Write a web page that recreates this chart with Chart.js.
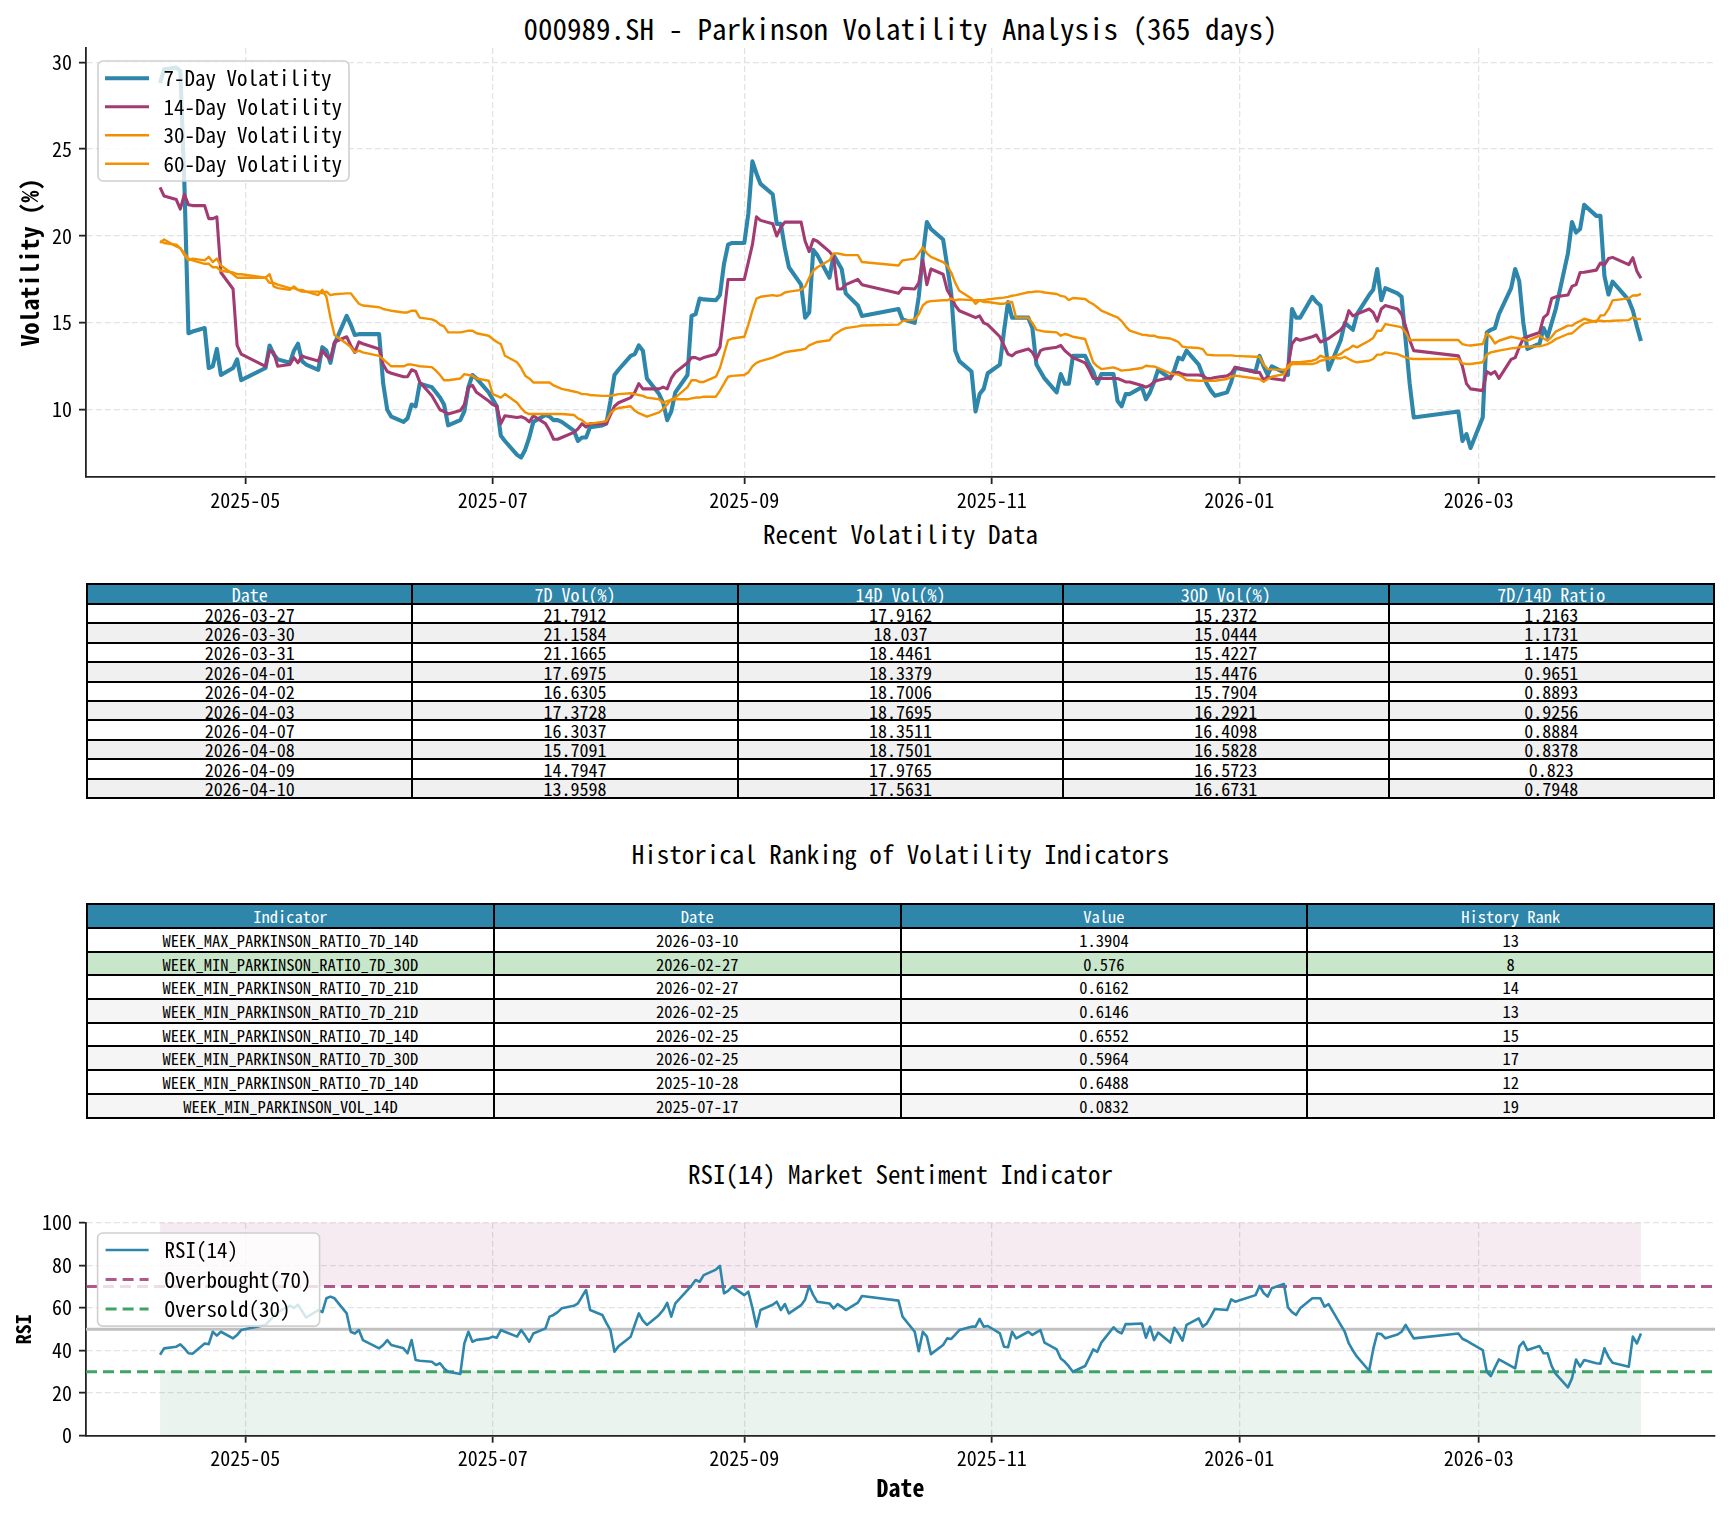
<!DOCTYPE html>
<html>
<head>
<meta charset="utf-8">
<title>000989.SH - Parkinson Volatility Analysis</title>
<script src="https://cdn.jsdelivr.net/npm/chart.js@4.4.1/dist/chart.umd.min.js"></script>
<style>
  html, body { margin: 0; padding: 0; background: #fff; }
  body { width: 1729px; height: 1513px; position: relative; overflow: hidden;
         font-family: "Noto Sans Mono CJK SC", "Noto Sans CJK SC", monospace; color: #000; }
  .title { position: absolute; left: 86px; width: 1629px; text-align: center; white-space: nowrap; }
  canvas { position: absolute; left: 0; }
  table { position: absolute; left: 86px; width: 1629px; border-collapse: collapse; table-layout: fixed; }
  td, th { border: 2px solid #000; padding: 0; text-align: center; font-weight: normal; white-space: nowrap; overflow: hidden; }
  th { background: #2E86AB; color: #fff; }
  #recentTable td, #recentTable th { line-height: 16px; }
  #rankTable td, #rankTable th { line-height: 18px; }
</style>
</head>
<body>
<div class="title" style="top:10px;font-size:29px;line-height:34px">000989.SH - Parkinson Volatility Analysis (365 days)</div>
<canvas id="volChart" width="1729" height="475" style="top:40px"></canvas>
<div class="title" style="top:518px;font-size:25px;line-height:30px">Recent Volatility Data</div>
<table id="recentTable" style="top:583px;font-size:18px"></table>
<div class="title" style="top:838px;font-size:25px;line-height:30px">Historical Ranking of Volatility Indicators</div>
<table id="rankTable" style="top:903px;font-size:16.5px"></table>
<div class="title" style="top:1158px;font-size:25px;line-height:30px">RSI(14) Market Sentiment Indicator</div>
<canvas id="rsiChart" width="1729" height="301" style="top:1212px"></canvas>

<script>
// ---- volatility series ----
const vol7Dates = [
  '2025-04-10','2025-04-11','2025-04-14','2025-04-15','2025-04-16','2025-04-17','2025-04-18','2025-04-21','2025-04-22','2025-04-23','2025-04-24','2025-04-25','2025-04-28','2025-04-29','2025-04-30',
  '2025-05-06','2025-05-07','2025-05-08','2025-05-09','2025-05-12','2025-05-13','2025-05-14','2025-05-15','2025-05-16','2025-05-19','2025-05-20','2025-05-21','2025-05-22','2025-05-23','2025-05-26','2025-05-27','2025-05-28','2025-05-29','2025-05-30',
  '2025-06-03','2025-06-04','2025-06-05','2025-06-06','2025-06-09','2025-06-10','2025-06-11','2025-06-12','2025-06-13','2025-06-16','2025-06-17','2025-06-18','2025-06-19','2025-06-20','2025-06-23','2025-06-24','2025-06-25','2025-06-26','2025-06-27','2025-06-30',
  '2025-07-01','2025-07-02','2025-07-03','2025-07-04','2025-07-07','2025-07-08','2025-07-09','2025-07-10','2025-07-11','2025-07-14','2025-07-15','2025-07-16','2025-07-17','2025-07-18','2025-07-21','2025-07-22','2025-07-23','2025-07-24','2025-07-25','2025-07-28','2025-07-29','2025-07-30','2025-07-31',
  '2025-08-01','2025-08-04','2025-08-05','2025-08-06','2025-08-07','2025-08-08','2025-08-11','2025-08-12','2025-08-13','2025-08-14','2025-08-15','2025-08-18','2025-08-19','2025-08-20','2025-08-21','2025-08-22','2025-08-25','2025-08-26','2025-08-27','2025-08-28','2025-08-29',
  '2025-09-01','2025-09-02','2025-09-03','2025-09-04','2025-09-05','2025-09-08','2025-09-09','2025-09-10','2025-09-11','2025-09-12','2025-09-15','2025-09-16','2025-09-17','2025-09-18','2025-09-19','2025-09-22','2025-09-23','2025-09-24','2025-09-25','2025-09-26','2025-09-29','2025-09-30',
  '2025-10-09','2025-10-10','2025-10-13','2025-10-14','2025-10-15','2025-10-16','2025-10-17','2025-10-20','2025-10-21','2025-10-22','2025-10-23','2025-10-24','2025-10-27','2025-10-28','2025-10-29','2025-10-30','2025-10-31',
  '2025-11-03','2025-11-04','2025-11-05','2025-11-06','2025-11-07','2025-11-10','2025-11-11','2025-11-12','2025-11-13','2025-11-14','2025-11-17','2025-11-18','2025-11-19','2025-11-20','2025-11-21','2025-11-24','2025-11-25','2025-11-26','2025-11-27','2025-11-28',
  '2025-12-01','2025-12-02','2025-12-03','2025-12-04','2025-12-05','2025-12-08','2025-12-09','2025-12-10','2025-12-11','2025-12-12','2025-12-15','2025-12-16','2025-12-17','2025-12-18','2025-12-19','2025-12-22','2025-12-23','2025-12-24','2025-12-25','2025-12-26','2025-12-29','2025-12-30','2025-12-31',
  '2026-01-05','2026-01-06','2026-01-07','2026-01-08','2026-01-09','2026-01-12','2026-01-13','2026-01-14','2026-01-15','2026-01-16','2026-01-19','2026-01-20','2026-01-21','2026-01-22','2026-01-23','2026-01-26','2026-01-27','2026-01-28','2026-01-29','2026-01-30',
  '2026-02-02','2026-02-03','2026-02-04','2026-02-05','2026-02-06','2026-02-09','2026-02-10','2026-02-11','2026-02-12','2026-02-13','2026-02-24','2026-02-25','2026-02-26','2026-02-27',
  '2026-03-02','2026-03-03','2026-03-04','2026-03-05','2026-03-06','2026-03-09','2026-03-10','2026-03-11','2026-03-12','2026-03-13','2026-03-16','2026-03-17','2026-03-18','2026-03-19','2026-03-20','2026-03-23','2026-03-24','2026-03-25','2026-03-26','2026-03-27','2026-03-30','2026-03-31',
  '2026-04-01','2026-04-02','2026-04-03','2026-04-07','2026-04-08','2026-04-09','2026-04-10'
];
const vol7Values = [
  28.8,29.6,29.7,29.5,23.0,14.4,14.5,14.7,12.4,12.5,13.5,12.0,12.4,12.9,11.7,
  12.4,13.7,13.2,12.9,12.7,13.4,13.8,12.8,12.6,12.3,13.6,13.4,12.7,13.8,15.4,14.9,14.3,14.35,14.35,
  14.35,11.5,10.0,9.6,9.3,9.5,10.3,10.2,11.5,11.3,11.0,10.7,10.3,9.1,9.4,9.9,11.3,12.0,11.8,11.0,
  10.6,10.2,8.5,8.2,7.4,7.25,7.7,8.4,9.3,9.7,9.6,9.4,9.4,9.3,8.8,8.2,8.4,8.4,9.0,9.1,9.2,10.5,12.0,
  12.3,13.1,13.2,13.7,13.4,11.8,10.9,10.4,9.4,9.9,11.0,12.0,15.4,15.5,16.4,16.35,16.3,16.6,18.4,19.5,19.6,
  19.6,21.3,24.3,23.6,23.0,22.4,20.7,20.7,19.3,18.2,17.2,15.3,15.6,19.2,18.9,17.6,18.9,18.5,18.1,16.7,16.0,15.4,
  15.8,15.2,15.0,16.5,18.9,20.8,20.4,19.8,18.3,16.7,13.4,12.8,12.2,9.9,10.9,11.2,12.1,
  12.6,14.5,16.2,15.3,15.3,15.3,14.7,12.6,12.2,11.8,11.0,12.05,11.5,11.5,13.1,13.1,12.6,12.2,11.5,12.05,
  12.05,10.5,10.2,10.9,10.9,11.3,10.6,11.0,11.6,12.3,11.8,12.3,13.0,12.9,13.4,12.6,12.0,11.5,11.1,10.8,11.0,11.6,12.4,
  12.2,13.1,12.5,12.0,12.5,12.15,12.0,15.8,15.3,15.3,16.5,16.2,16.0,14.2,12.3,14.0,15.0,14.8,14.6,15.5,
  16.6,16.9,18.1,16.3,17.0,16.7,16.5,14.0,11.5,9.55,9.9,8.2,8.6,7.8,
  9.55,14.45,14.6,14.7,15.5,17.0,18.1,17.4,15.0,13.5,13.8,14.7,14.2,15.0,15.8,19.0,20.8,20.2,20.4,21.7912,21.1584,21.1665,
  17.6975,16.6305,17.3728,16.3037,15.7091,14.7947,13.9598
];

const vol14Dates = [
  '2025-04-10','2025-04-11','2025-04-14','2025-04-15','2025-04-16','2025-04-17','2025-04-18','2025-04-21','2025-04-22','2025-04-23','2025-04-24','2025-04-25','2025-04-28','2025-04-29','2025-04-30',
  '2025-05-06','2025-05-07','2025-05-08','2025-05-09','2025-05-12','2025-05-13','2025-05-14','2025-05-15','2025-05-16','2025-05-19','2025-05-20','2025-05-21','2025-05-22','2025-05-23','2025-05-26','2025-05-27','2025-05-28','2025-05-29','2025-05-30',
  '2025-06-03','2025-06-04','2025-06-05','2025-06-06','2025-06-09','2025-06-10','2025-06-11','2025-06-12','2025-06-13','2025-06-16','2025-06-17','2025-06-18','2025-06-19','2025-06-20','2025-06-23','2025-06-24','2025-06-25','2025-06-26','2025-06-27','2025-06-30',
  '2025-07-01','2025-07-02','2025-07-03','2025-07-04','2025-07-07','2025-07-08','2025-07-09','2025-07-10','2025-07-11','2025-07-14','2025-07-15','2025-07-16','2025-07-17','2025-07-18','2025-07-21','2025-07-22','2025-07-23','2025-07-24','2025-07-25','2025-07-28','2025-07-29','2025-07-30','2025-07-31',
  '2025-08-01','2025-08-04','2025-08-05','2025-08-06','2025-08-07','2025-08-08','2025-08-11','2025-08-12','2025-08-13','2025-08-14','2025-08-15','2025-08-18','2025-08-19','2025-08-20','2025-08-21','2025-08-22','2025-08-25','2025-08-26','2025-08-27','2025-08-28','2025-08-29',
  '2025-09-01','2025-09-02','2025-09-03','2025-09-04','2025-09-05','2025-09-08','2025-09-09','2025-09-10','2025-09-11','2025-09-12','2025-09-15','2025-09-16','2025-09-17','2025-09-18','2025-09-19','2025-09-22','2025-09-23','2025-09-24','2025-09-25','2025-09-26','2025-09-29','2025-09-30',
  '2025-10-09','2025-10-10','2025-10-13','2025-10-14','2025-10-15','2025-10-16','2025-10-17','2025-10-20','2025-10-21','2025-10-22','2025-10-23','2025-10-24','2025-10-27','2025-10-28','2025-10-29','2025-10-30','2025-10-31',
  '2025-11-03','2025-11-04','2025-11-05','2025-11-06','2025-11-07','2025-11-10','2025-11-11','2025-11-12','2025-11-13','2025-11-14','2025-11-17','2025-11-18','2025-11-19','2025-11-20','2025-11-21','2025-11-24','2025-11-25','2025-11-26','2025-11-27','2025-11-28',
  '2025-12-01','2025-12-02','2025-12-03','2025-12-04','2025-12-05','2025-12-08','2025-12-09','2025-12-10','2025-12-11','2025-12-12','2025-12-15','2025-12-16','2025-12-17','2025-12-18','2025-12-19','2025-12-22','2025-12-23','2025-12-24','2025-12-25','2025-12-26','2025-12-29','2025-12-30','2025-12-31',
  '2026-01-05','2026-01-06','2026-01-07','2026-01-08','2026-01-09','2026-01-12','2026-01-13','2026-01-14','2026-01-15','2026-01-16','2026-01-19','2026-01-20','2026-01-21','2026-01-22','2026-01-23','2026-01-26','2026-01-27','2026-01-28','2026-01-29','2026-01-30',
  '2026-02-02','2026-02-03','2026-02-04','2026-02-05','2026-02-06','2026-02-09','2026-02-10','2026-02-11','2026-02-12','2026-02-13','2026-02-24','2026-02-25','2026-02-26','2026-02-27',
  '2026-03-02','2026-03-03','2026-03-04','2026-03-05','2026-03-06','2026-03-09','2026-03-10','2026-03-11','2026-03-12','2026-03-13','2026-03-16','2026-03-17','2026-03-18','2026-03-19','2026-03-20','2026-03-23','2026-03-24','2026-03-25','2026-03-26','2026-03-27','2026-03-30','2026-03-31',
  '2026-04-01','2026-04-02','2026-04-03','2026-04-07','2026-04-08','2026-04-09','2026-04-10'
];
const vol14Values = [
  22.8,22.3,22.1,21.55,22.4,21.8,21.75,21.75,21.0,21.0,21.1,17.9,16.95,13.7,13.2,
  12.5,13.4,13.3,12.5,12.6,13.0,12.7,13.1,13.0,12.8,13.4,13.1,12.9,13.9,14.2,13.7,13.3,13.9,13.8,
  13.5,12.6,12.2,12.1,11.9,11.9,12.3,12.2,11.6,10.8,10.4,10.0,9.9,9.75,9.95,10.3,11.3,11.4,11.0,10.5,
  10.3,10.2,9.2,9.65,9.55,9.6,9.5,9.3,9.65,9.2,8.8,8.3,8.3,8.4,8.7,8.9,9.2,9.0,9.2,9.2,9.2,9.7,10.2,
  10.4,10.7,11.0,11.5,11.2,11.2,11.2,11.3,11.2,11.8,12.15,12.7,13.0,13.0,12.9,13.0,13.2,13.6,15.5,17.5,17.5,
  17.5,18.5,19.5,21.1,20.9,20.7,20.0,20.5,20.8,20.8,20.8,19.7,19.1,19.8,19.7,19.1,18.8,16.95,16.95,17.2,17.5,17.2,
  16.7,17.0,16.95,17.3,18.6,17.2,18.1,17.8,16.9,16.5,16.0,15.7,15.4,15.3,15.4,15.0,14.9,
  14.2,13.7,13.2,13.1,13.3,13.5,13.3,12.9,13.4,13.5,13.6,13.7,13.4,13.2,13.0,12.7,12.3,11.8,11.8,11.8,
  11.8,11.8,11.7,11.6,11.6,11.4,11.3,11.4,11.6,11.7,11.85,12.1,12.15,12.05,12.0,12.0,11.95,11.8,11.8,11.85,11.95,12.1,12.45,
  12.15,12.15,11.7,11.9,11.8,11.7,12.5,13.8,14.1,14.0,14.2,14.3,13.9,14.0,14.1,14.6,14.9,15.7,15.4,15.5,
  15.8,15.6,15.1,15.8,16.0,15.8,15.5,14.8,14.0,13.4,13.1,12.5,11.5,11.2,
  11.1,12.2,12.05,12.2,11.8,12.9,13.0,13.6,14.1,14.2,14.45,15.3,15.5,16.4,16.5,16.6,17.1,17.2,17.9,17.9162,18.037,18.4461,
  18.3379,18.7006,18.7695,18.3511,18.7501,17.9765,17.5631
];

const vol30Dates = [
  '2025-04-10','2025-04-11','2025-04-14','2025-04-15','2025-04-16','2025-04-17','2025-04-18','2025-04-21','2025-04-22','2025-04-23','2025-04-24','2025-04-25','2025-04-28','2025-04-29','2025-04-30',
  '2025-05-06','2025-05-07','2025-05-08','2025-05-09','2025-05-12','2025-05-13','2025-05-14','2025-05-15','2025-05-16','2025-05-19','2025-05-20','2025-05-21','2025-05-22','2025-05-23','2025-05-26','2025-05-27','2025-05-28','2025-05-29','2025-05-30',
  '2025-06-03','2025-06-04','2025-06-05','2025-06-06','2025-06-09','2025-06-10','2025-06-11','2025-06-12','2025-06-13','2025-06-16','2025-06-17','2025-06-18','2025-06-19','2025-06-20','2025-06-23','2025-06-24','2025-06-25','2025-06-26','2025-06-27','2025-06-30',
  '2025-07-01','2025-07-02','2025-07-03','2025-07-04','2025-07-07','2025-07-08','2025-07-09','2025-07-10','2025-07-11','2025-07-14','2025-07-18','2025-07-21','2025-07-22','2025-07-23','2025-07-24','2025-07-25','2025-07-28','2025-07-29','2025-07-30','2025-07-31',
  '2025-08-01','2025-08-04','2025-08-05','2025-08-06','2025-08-07','2025-08-08','2025-08-11','2025-08-12','2025-08-13','2025-08-14','2025-08-15','2025-08-18','2025-08-19','2025-08-20','2025-08-21','2025-08-22','2025-08-25','2025-08-26','2025-08-27','2025-08-28','2025-08-29',
  '2025-09-01','2025-09-02','2025-09-03','2025-09-04','2025-09-05','2025-09-08','2025-09-09','2025-09-10','2025-09-11','2025-09-12','2025-09-15','2025-09-16','2025-09-17','2025-09-18','2025-09-19','2025-09-22','2025-09-23','2025-09-24','2025-09-25','2025-09-26','2025-09-29','2025-09-30',
  '2025-10-09','2025-10-10','2025-10-13','2025-10-14','2025-10-15','2025-10-16','2025-10-17','2025-10-20','2025-10-21','2025-10-22','2025-10-23','2025-10-24','2025-10-27','2025-10-28','2025-10-29','2025-10-30','2025-10-31',
  '2025-11-03','2025-11-04','2025-11-05','2025-11-06','2025-11-07','2025-11-10','2025-11-11','2025-11-12','2025-11-13','2025-11-14','2025-11-17','2025-11-18','2025-11-19','2025-11-20','2025-11-21','2025-11-24','2025-11-25','2025-11-26','2025-11-27','2025-11-28',
  '2025-12-01','2025-12-02','2025-12-03','2025-12-04','2025-12-05','2025-12-08','2025-12-09','2025-12-10','2025-12-11','2025-12-12','2025-12-15','2025-12-16','2025-12-17','2025-12-18','2025-12-19','2025-12-22','2025-12-23','2025-12-24','2025-12-26','2025-12-29','2025-12-30','2025-12-31',
  '2026-01-05','2026-01-06','2026-01-07','2026-01-08','2026-01-09','2026-01-12','2026-01-13','2026-01-14','2026-01-15','2026-01-16','2026-01-19','2026-01-20','2026-01-21','2026-01-22','2026-01-23','2026-01-26','2026-01-27','2026-01-28','2026-01-29','2026-01-30',
  '2026-02-02','2026-02-03','2026-02-04','2026-02-05','2026-02-06','2026-02-09','2026-02-10','2026-02-11','2026-02-12','2026-02-13','2026-02-24','2026-02-25','2026-02-26','2026-02-27',
  '2026-03-02','2026-03-03','2026-03-04','2026-03-05','2026-03-06','2026-03-09','2026-03-10','2026-03-11','2026-03-12','2026-03-13','2026-03-16','2026-03-17','2026-03-18','2026-03-19','2026-03-20','2026-03-23','2026-03-24','2026-03-25','2026-03-26','2026-03-27','2026-03-30','2026-03-31',
  '2026-04-01','2026-04-02','2026-04-03','2026-04-07','2026-04-08','2026-04-09','2026-04-10'
];
const vol30Values = [
  19.6,19.8,19.4,19.3,18.9,18.6,18.7,18.6,18.8,18.5,18.7,18.3,17.8,17.6,17.6,
  17.6,17.8,17.1,17.0,16.9,17.1,16.9,16.8,16.8,16.6,16.9,16.5,15.3,14.3,13.8,13.6,13.3,13.4,13.3,
  13.1,12.9,12.7,12.5,12.5,12.6,12.6,12.55,12.5,12.45,12.25,12.0,11.7,11.7,11.8,12.05,12.0,11.96,11.8,11.67,
  10.9,10.8,10.7,10.9,10.4,10.1,9.85,9.75,9.75,9.75,9.75,9.7,9.5,9.4,9.2,9.2,9.3,9.35,9.8,10.0,
  10.1,10.2,9.95,9.8,9.7,9.6,9.85,10.05,10.3,10.6,10.7,11.3,11.7,11.7,11.6,11.6,11.9,12.4,13.2,14.0,14.1,
  14.2,14.9,15.7,16.4,16.5,16.6,16.55,16.6,16.75,16.8,16.9,17.1,17.6,18.0,18.2,18.6,19.0,19.0,18.95,18.9,18.9,18.5,
  18.3,18.6,18.7,19.0,19.35,19.0,18.8,18.5,18.3,17.9,17.3,16.85,16.4,16.1,16.3,16.2,16.2,
  16.1,16.1,16.2,16.2,15.3,15.3,15.0,14.6,14.55,14.5,14.45,14.26,14.36,14.3,14.2,14.07,13.4,12.73,12.5,12.34,
  12.44,12.35,12.25,12.28,12.3,12.4,12.53,12.5,12.49,12.4,12.1,12.05,12.02,11.9,11.71,11.67,11.67,11.67,11.67,11.77,11.9,11.96,
  11.8,11.77,11.61,11.77,11.9,12.05,12.53,12.73,12.73,12.73,12.82,12.9,13.11,13.01,12.92,13.21,13.4,13.5,13.69,13.59,
  13.97,14.13,14.55,14.55,14.93,14.8,14.74,14.45,14.0,14.01,14.01,13.78,13.72,13.7,
  13.78,14.4,14.17,13.82,13.97,14.2,14.15,14.1,14.07,13.97,14.26,14.1,13.97,14.2,14.5,14.84,14.84,15.0,15.1,15.2372,15.0444,15.4227,
  15.4476,15.7904,16.2921,16.4098,16.5828,16.5723,16.6731
];

const vol60Dates = [
  '2025-04-10','2025-04-11','2025-04-14','2025-04-15','2025-04-16','2025-04-17','2025-04-18','2025-04-21','2025-04-22','2025-04-23','2025-04-24','2025-04-25','2025-04-28','2025-04-29','2025-04-30',
  '2025-05-06','2025-05-07','2025-05-08','2025-05-09','2025-05-12','2025-05-13','2025-05-14','2025-05-15','2025-05-16','2025-05-19','2025-05-20','2025-05-21','2025-05-22','2025-05-23','2025-05-26','2025-05-27','2025-05-28','2025-05-29','2025-05-30',
  '2025-06-03','2025-06-04','2025-06-05','2025-06-06','2025-06-09','2025-06-10','2025-06-11','2025-06-12','2025-06-13','2025-06-16','2025-06-17','2025-06-18','2025-06-19','2025-06-20','2025-06-23','2025-06-24','2025-06-25','2025-06-26','2025-06-27','2025-06-30',
  '2025-07-01','2025-07-02','2025-07-03','2025-07-04','2025-07-07','2025-07-08','2025-07-09','2025-07-10','2025-07-11','2025-07-14','2025-07-15','2025-07-16','2025-07-17','2025-07-18','2025-07-21','2025-07-22','2025-07-23','2025-07-24','2025-07-25','2025-07-28','2025-07-29','2025-07-30','2025-07-31',
  '2025-08-01','2025-08-04','2025-08-05','2025-08-06','2025-08-07','2025-08-08','2025-08-11','2025-08-12','2025-08-13','2025-08-14','2025-08-15','2025-08-18','2025-08-19','2025-08-20','2025-08-21','2025-08-22','2025-08-25','2025-08-26','2025-08-27','2025-08-28','2025-08-29',
  '2025-09-01','2025-09-02','2025-09-03','2025-09-04','2025-09-05','2025-09-08','2025-09-09','2025-09-10','2025-09-11','2025-09-12','2025-09-15','2025-09-16','2025-09-17','2025-09-18','2025-09-19','2025-09-22','2025-09-23','2025-09-24','2025-09-25','2025-09-26','2025-09-29','2025-09-30',
  '2025-10-09','2025-10-10','2025-10-13','2025-10-14','2025-10-15','2025-10-16','2025-10-17','2025-10-20','2025-10-21','2025-10-22','2025-10-23','2025-10-24','2025-10-27','2025-10-28','2025-10-29','2025-10-30','2025-10-31',
  '2025-11-03','2025-11-04','2025-11-05','2025-11-06','2025-11-07','2025-11-10','2025-11-11','2025-11-12','2025-11-13','2025-11-14','2025-11-17','2025-11-18','2025-11-19','2025-11-20','2025-11-21','2025-11-24','2025-11-25','2025-11-26','2025-11-27','2025-11-28',
  '2025-12-01','2025-12-02','2025-12-03','2025-12-04','2025-12-05','2025-12-08','2025-12-09','2025-12-10','2025-12-11','2025-12-12','2025-12-15','2025-12-16','2025-12-17','2025-12-18','2025-12-19','2025-12-22','2025-12-23','2025-12-24','2025-12-25','2025-12-26','2025-12-29','2025-12-30','2025-12-31',
  '2026-01-05','2026-01-06','2026-01-07','2026-01-08','2026-01-09','2026-01-12','2026-01-13','2026-01-14','2026-01-15','2026-01-16','2026-01-19','2026-01-20','2026-01-21','2026-01-22','2026-01-23','2026-01-26','2026-01-27','2026-01-28','2026-01-29','2026-01-30',
  '2026-02-02','2026-02-03','2026-02-04','2026-02-05','2026-02-06','2026-02-09','2026-02-10','2026-02-11','2026-02-12','2026-02-13','2026-02-24','2026-02-25','2026-02-26','2026-02-27',
  '2026-03-02','2026-03-03','2026-03-04','2026-03-05','2026-03-06','2026-03-09','2026-03-10','2026-03-11','2026-03-12','2026-03-13','2026-03-16','2026-03-17','2026-03-18','2026-03-19','2026-03-20','2026-03-23','2026-03-24','2026-03-25','2026-03-26','2026-03-27','2026-03-30','2026-03-31',
  '2026-04-01','2026-04-02','2026-04-03','2026-04-07','2026-04-08','2026-04-09','2026-04-10'
];
const vol60Values = [
  19.7,19.6,19.5,19.3,19.0,18.7,18.6,18.4,18.4,18.2,18.2,18.0,17.9,17.8,17.8,
  17.6,17.3,17.3,17.2,17.0,17.0,16.9,16.9,16.8,16.8,16.7,16.8,16.6,16.65,16.7,16.7,16.4,16.1,16.0,
  15.9,15.8,15.75,15.7,15.6,15.6,15.7,15.7,15.3,15.2,15.1,14.9,14.8,14.45,14.45,14.5,14.55,14.55,14.4,14.26,
  14.07,13.9,13.78,13.11,12.73,12.4,11.96,11.8,11.57,11.57,11.57,11.4,11.3,11.2,11.05,11.0,10.9,10.9,10.85,10.8,10.8,10.8,10.85,
  10.9,10.95,10.9,10.85,10.8,10.7,10.6,10.4,10.5,10.55,10.6,10.6,10.65,10.7,10.7,10.75,10.75,11.1,11.5,11.9,11.95,
  12.0,12.15,12.5,12.7,12.8,13.0,13.1,13.2,13.3,13.35,13.45,13.5,13.7,13.8,13.9,14.0,14.3,14.45,14.6,14.7,14.8,14.85,
  14.9,15.1,15.2,15.5,16.0,16.2,16.25,16.3,16.3,16.4,16.3,16.35,16.31,16.3,16.31,16.31,16.35,
  16.43,16.45,16.5,16.56,16.6,16.76,16.78,16.81,16.8,16.75,16.66,16.55,16.51,16.31,16.43,16.37,16.2,16.08,15.9,15.7,
  15.4,15.32,15.1,14.8,14.55,14.32,14.3,14.26,14.26,14.17,14.1,14.01,13.9,13.63,13.6,13.55,13.49,13.17,13.15,13.13,13.13,13.13,13.1,
  13.05,13.05,12.6,12.34,12.32,12.3,12.4,12.63,12.63,12.63,12.63,12.7,12.82,12.86,13.01,12.95,13.05,12.92,12.8,12.73,
  12.82,12.92,13.17,13.17,13.3,13.2,13.1,13.01,12.95,12.92,12.92,12.67,12.63,12.63,
  12.73,13.17,13.3,13.35,13.4,13.53,13.55,13.6,13.63,13.63,13.65,13.7,13.78,13.9,14.07,14.36,14.4,14.6,14.8,14.97,15.12,15.12,
  15.09,15.1,15.12,15.16,15.32,15.22,15.22
];

// ---- RSI(14) ----
const rsiDates = [
  '2025-04-10','2025-04-11','2025-04-14','2025-04-15','2025-04-16','2025-04-17','2025-04-18','2025-04-21','2025-04-22','2025-04-23','2025-04-24','2025-04-25','2025-04-28','2025-04-29','2025-04-30',
  '2025-05-06','2025-05-07','2025-05-08','2025-05-09','2025-05-12','2025-05-13','2025-05-14','2025-05-15','2025-05-16','2025-05-19','2025-05-20','2025-05-21','2025-05-22','2025-05-23','2025-05-26','2025-05-27','2025-05-28','2025-05-29','2025-05-30',
  '2025-06-03','2025-06-04','2025-06-05','2025-06-06','2025-06-09','2025-06-10','2025-06-11','2025-06-12','2025-06-13','2025-06-16','2025-06-17','2025-06-18','2025-06-19','2025-06-20','2025-06-23','2025-06-24','2025-06-25','2025-06-26','2025-06-27','2025-06-30',
  '2025-07-01','2025-07-02','2025-07-03','2025-07-04','2025-07-07','2025-07-08','2025-07-09','2025-07-10','2025-07-11','2025-07-14','2025-07-15','2025-07-16','2025-07-17','2025-07-18','2025-07-21','2025-07-22','2025-07-23','2025-07-24','2025-07-25','2025-07-28','2025-07-29','2025-07-30','2025-07-31',
  '2025-08-01','2025-08-04','2025-08-05','2025-08-06','2025-08-07','2025-08-08','2025-08-11','2025-08-12','2025-08-13','2025-08-14','2025-08-15','2025-08-18','2025-08-19','2025-08-20','2025-08-21','2025-08-22','2025-08-25','2025-08-26','2025-08-27','2025-08-28','2025-08-29',
  '2025-09-01','2025-09-02','2025-09-03','2025-09-04','2025-09-05','2025-09-08','2025-09-09','2025-09-10','2025-09-11','2025-09-12','2025-09-15','2025-09-16','2025-09-17','2025-09-18','2025-09-19','2025-09-22','2025-09-23','2025-09-24','2025-09-25','2025-09-26','2025-09-29','2025-09-30',
  '2025-10-09','2025-10-10','2025-10-13','2025-10-14','2025-10-15','2025-10-16','2025-10-17','2025-10-20','2025-10-21','2025-10-22','2025-10-23','2025-10-24','2025-10-27','2025-10-28','2025-10-29','2025-10-30','2025-10-31',
  '2025-11-03','2025-11-04','2025-11-05','2025-11-06','2025-11-07','2025-11-10','2025-11-11','2025-11-12','2025-11-13','2025-11-14','2025-11-17','2025-11-18','2025-11-19','2025-11-20','2025-11-21','2025-11-24','2025-11-25','2025-11-26','2025-11-27','2025-11-28',
  '2025-12-01','2025-12-02','2025-12-03','2025-12-04','2025-12-05','2025-12-08','2025-12-09','2025-12-10','2025-12-11','2025-12-12','2025-12-15','2025-12-16','2025-12-17','2025-12-18','2025-12-19','2025-12-22','2025-12-23','2025-12-24','2025-12-25','2025-12-26','2025-12-29','2025-12-30','2025-12-31',
  '2026-01-05','2026-01-06','2026-01-07','2026-01-08','2026-01-09','2026-01-12','2026-01-13','2026-01-14','2026-01-15','2026-01-16','2026-01-19','2026-01-20','2026-01-21','2026-01-22','2026-01-23','2026-01-26','2026-01-27','2026-01-28','2026-01-29','2026-01-30',
  '2026-02-02','2026-02-03','2026-02-04','2026-02-05','2026-02-06','2026-02-09','2026-02-10','2026-02-11','2026-02-12','2026-02-13','2026-02-24','2026-02-25','2026-02-26','2026-02-27',
  '2026-03-02','2026-03-03','2026-03-04','2026-03-05','2026-03-06','2026-03-09','2026-03-10','2026-03-11','2026-03-12','2026-03-13','2026-03-16','2026-03-17','2026-03-18','2026-03-19','2026-03-20','2026-03-23','2026-03-24','2026-03-25','2026-03-26','2026-03-27','2026-03-30','2026-03-31',
  '2026-04-01','2026-04-02','2026-04-03','2026-04-07','2026-04-08','2026-04-09','2026-04-10'
];
const rsiValues = [
  38,41,41.8,42.9,41,38.7,38.5,43.3,43,48.8,47,48.8,45.7,47.3,49.6,
  52,54,56,58,61,60,61.5,58.5,55.5,59,58,64.5,65.3,64.5,57.4,48.8,48,49.6,44.9,
  41,42.6,44.9,42.6,41,38.7,44.9,35.5,35.2,34.7,33.2,34,31.6,30,29,43.3,48.8,44.1,45,45.7,
  46.5,46,49.6,48.8,46.5,49.6,47,44.1,48,50.4,55.9,56.7,58,59.8,61,62.1,65.3,68.4,59,56.7,53,49.6,39.4,
  42,46.5,52,57.4,54,52,56.7,59,62.4,55.9,62.1,68.4,70.5,73.1,72.3,75.4,78,79.7,66.8,68,70,
  66,67.6,60,51.2,59,61.5,62.9,59,61.8,57.4,61.3,64,70.3,66,62.9,62.1,59.8,61.8,60.5,59,62.5,65.6,
  63.4,55.9,48.8,39.7,48.8,46.5,38.3,42.6,45.7,45.4,47.5,49.6,51.2,51.2,54.8,51.2,51.5,
  48,41.8,41.5,48.8,45.7,48.8,47.3,48.5,49.6,43.7,40.5,36.3,34.7,32.5,30,32.7,36.5,40.5,39.4,43.7,
  50.9,49,48,52.4,52.4,52.7,46,51.2,44.9,48.4,43.7,50.7,48,44.6,52,55.1,51.2,52.7,56,59.5,59,64,62.9,
  66,70.3,67,65.3,69.2,71.2,60.2,58,56.7,59.8,64.5,64.5,64.5,60.6,61.8,52,48.8,43.3,40,37.1,
  30.5,40.5,48,47.7,45.7,47.5,48.8,52,48.8,45.7,48,45.5,44.6,43.5,
  40.2,30,28,32,35.8,32.7,31.6,41.8,44.1,40.2,42.1,38.7,38.7,32.7,29,22.7,26.9,35.8,32.4,35.5,34,33.8,
  41,37,34.3,32.4,46.5,43.3,48
];
const overboughtLevel = 70;
const oversoldLevel = 30;
const midLevel = 50;

// ---- axes ticks ----
const tickMonths = ['2025-05', '2025-07', '2025-09', '2025-11', '2026-01', '2026-03'];
const volTicks = [10, 15, 20, 25, 30];
const rsiTicks = [0, 20, 40, 60, 80, 100];

// ---- tables ----
const recentDates = ['2026-03-27','2026-03-30','2026-03-31','2026-04-01','2026-04-02','2026-04-03','2026-04-07','2026-04-08','2026-04-09','2026-04-10'];
const recentVol7 = [21.7912, 21.1584, 21.1665, 17.6975, 16.6305, 17.3728, 16.3037, 15.7091, 14.7947, 13.9598];
const recentVol14 = [17.9162, 18.037, 18.4461, 18.3379, 18.7006, 18.7695, 18.3511, 18.7501, 17.9765, 17.5631];
const recentVol30 = [15.2372, 15.0444, 15.4227, 15.4476, 15.7904, 16.2921, 16.4098, 16.5828, 16.5723, 16.6731];
const recentRatio = [1.2163, 1.1731, 1.1475, 0.9651, 0.8893, 0.9256, 0.8884, 0.8378, 0.823, 0.7948];

const rankIndicators = ['WEEK_MAX_PARKINSON_RATIO_7D_14D','WEEK_MIN_PARKINSON_RATIO_7D_30D','WEEK_MIN_PARKINSON_RATIO_7D_21D','WEEK_MIN_PARKINSON_RATIO_7D_21D',
                        'WEEK_MIN_PARKINSON_RATIO_7D_14D','WEEK_MIN_PARKINSON_RATIO_7D_30D','WEEK_MIN_PARKINSON_RATIO_7D_14D','WEEK_MIN_PARKINSON_VOL_14D'];
const rankDates = ['2026-03-10','2026-02-27','2026-02-27','2026-02-25','2026-02-25','2026-02-25','2025-10-28','2025-07-17'];
const rankValues = [1.3904, 0.576, 0.6162, 0.6146, 0.6552, 0.5964, 0.6488, 0.0832];
const rankPositions = [13, 8, 14, 13, 15, 17, 12, 19];
const rankHighlightRow = 1;

// ---------------------------------------------------------------

const FONT = '"Noto Sans Mono CJK SC", "Noto Sans CJK SC", monospace';
Chart.defaults.font.family = FONT;
Chart.defaults.color = '#000';

function toDay(s) {
    return Date.UTC(+s.slice(0, 4), +s.slice(5, 7) - 1, +s.slice(8, 10)) / 86400000;
}
function points(dates, values) {
    return dates.map((d, i) => ({ x: toDay(d), y: values[i] }));
}

// matplotlib-like 5% margins on x
const firstDay = toDay(vol7Dates[0]);
const lastDay = toDay(vol7Dates[vol7Dates.length - 1]);
const xMin = firstDay - 0.05 * (lastDay - firstDay);
const xMax = lastDay + 0.05 * (lastDay - firstDay);

const allVol = vol7Values.concat(vol14Values, vol30Values, vol60Values);
const vMin = Math.min(...allVol), vMax = Math.max(...allVol);
const yMin = vMin - 0.05 * (vMax - vMin);
const yMax = vMax + 0.05 * (vMax - vMin);

function monthLabel(v) {
    const m = tickMonths.find(t => toDay(t + '-01') === v);
    return m || '';
}

const gridStyle = {
    color: '#e3e3e3', lineWidth: 1.3, borderDash: [6, 3],
    tickColor: '#222', tickWidth: 1.8, tickLength: 7, tickBorderDash: []
};
const borderStyle = { color: '#222', width: 1.8, dash: [6, 3] };

// fixed axis sizes, and no extra padding for edge labels
function xScale(height, title) {
    return {
        type: 'linear', min: xMin, max: xMax,
        afterBuildTicks: s => { s.ticks = tickMonths.map(m => ({ value: toDay(m + '-01') })); },
        afterFit: s => { s.height = height; s.paddingLeft = 0; s.paddingRight = 0; },
        ticks: { autoSkip: false, maxRotation: 0, padding: 4, font: { size: 20 }, callback: v => monthLabel(v) },
        grid: gridStyle,
        border: borderStyle,
        title: title
    };
}
function yScale(min, max, ticks, title) {
    return {
        min: min, max: max,
        afterBuildTicks: s => { s.ticks = ticks.map(v => ({ value: v })); },
        afterFit: s => { s.width = 86; s.paddingTop = 0; s.paddingBottom = 0; },
        ticks: { padding: 7, font: { size: 20 } },
        grid: gridStyle,
        border: borderStyle,
        title: title
    };
}

// legend drawn inside the plot like matplotlib's framed legend
const boxLegend = {
    id: 'boxLegend',
    afterDatasetsDraw(chart, args, opts) {
        const ctx = chart.ctx;
        const area = chart.chartArea;
        const items = chart.data.datasets.filter(d => d.label);
        ctx.save();
        ctx.font = opts.fontSize + 'px ' + FONT;
        const textW = Math.max(...items.map(d => ctx.measureText(d.label).width));
        const x = area.left + opts.x, y = area.top + opts.y;
        const w = opts.padX + opts.handle + opts.gap + textW + opts.padX;
        const h = items.length * opts.row + 2 * opts.padY;
        ctx.beginPath();
        ctx.roundRect(x, y, w, h, 5);
        ctx.fillStyle = 'rgba(255,255,255,0.8)';
        ctx.fill();
        ctx.lineWidth = 1.6;
        ctx.strokeStyle = '#d0d0d0';
        ctx.stroke();
        items.forEach((d, i) => {
            const cy = y + opts.padY + opts.row * (i + 0.5);
            ctx.beginPath();
            ctx.setLineDash(d.borderDash || []);
            ctx.lineWidth = d.borderWidth;
            ctx.strokeStyle = d.borderColor;
            ctx.moveTo(x + opts.padX, cy);
            ctx.lineTo(x + opts.padX + opts.handle, cy);
            ctx.stroke();
            ctx.setLineDash([]);
            ctx.fillStyle = '#000';
            ctx.textBaseline = 'middle';
            ctx.textAlign = 'left';
            ctx.fillText(d.label, x + opts.padX + opts.handle + opts.gap, cy);
        });
        ctx.restore();
    }
};

// ---- top chart ----
new Chart(document.getElementById('volChart'), {
    type: 'line',
    data: {
        datasets: [
            { label: '7-Day Volatility', data: points(vol7Dates, vol7Values), borderColor: '#2E86AB', borderWidth: 4.1, order: 4 },
            { label: '14-Day Volatility', data: points(vol14Dates, vol14Values), borderColor: '#A23B72', borderWidth: 3.1, order: 3 },
            { label: '30-Day Volatility', data: points(vol30Dates, vol30Values), borderColor: '#F18F01', borderWidth: 2.4, order: 2 },
            { label: '60-Day Volatility', data: points(vol60Dates, vol60Values), borderColor: '#F39200', borderWidth: 2.4, order: 1 }
        ]
    },
    options: {
        responsive: false,
        animation: false,
        elements: { point: { radius: 0 }, line: { tension: 0, borderJoinStyle: 'round', fill: false } },
        layout: { padding: { top: 8, right: 14, left: 0, bottom: 0 } },
        plugins: {
            legend: { display: false },
            tooltip: { enabled: false },
            boxLegend: { x: 12, y: 13, padX: 7, padY: 3, handle: 44, gap: 14.5, row: 28.5, fontSize: 21 }
        },
        scales: {
            x: xScale(38, { display: false }),
            y: yScale(yMin, yMax, volTicks, {
                display: true, text: 'Volatility (%)', font: { size: 24, weight: 'bold' }, padding: { top: 15, bottom: 0 }
            })
        }
    },
    plugins: [boxLegend]
});

// ---- RSI chart ----
new Chart(document.getElementById('rsiChart'), {
    type: 'line',
    data: {
        datasets: [
            { label: 'RSI(14)', data: points(rsiDates, rsiValues), borderColor: '#2E86AB', borderWidth: 2.6, order: 1 },
            { label: 'Overbought(70)', data: [{ x: xMin, y: overboughtLevel }, { x: xMax, y: overboughtLevel }],
              borderColor: 'rgba(162,59,114,0.85)', borderWidth: 3, borderDash: [11, 6], order: 2 },
            { label: 'Oversold(30)', data: [{ x: xMin, y: oversoldLevel }, { x: xMax, y: oversoldLevel }],
              borderColor: '#3FA463', borderWidth: 3, borderDash: [11, 6], order: 3 },
            { data: [{ x: xMin, y: midLevel }, { x: xMax, y: midLevel }], borderColor: '#c0c0c0', borderWidth: 3, order: 4 },
            { data: [{ x: firstDay, y: 100 }, { x: lastDay, y: 100 }], fill: { value: overboughtLevel },
              backgroundColor: 'rgba(162,59,114,0.1)', borderColor: 'rgba(162,59,114,0.12)', borderWidth: 1, order: 5 },
            { data: [{ x: firstDay, y: oversoldLevel }, { x: lastDay, y: oversoldLevel }], fill: { value: 0 },
              backgroundColor: 'rgba(46,139,87,0.1)', borderColor: 'rgba(46,139,87,0.1)', borderWidth: 1, order: 6 }
        ]
    },
    options: {
        responsive: false,
        animation: false,
        elements: { point: { radius: 0 }, line: { tension: 0, borderJoinStyle: 'round', fill: false } },
        layout: { padding: { top: 10.7, right: 14, left: 0, bottom: 0 } },
        plugins: {
            legend: { display: false },
            tooltip: { enabled: false },
            boxLegend: { x: 11.6, y: 10.3, padX: 8, padY: 2.3, handle: 43, gap: 16, row: 29.5, fontSize: 21 }
        },
        scales: {
            x: xScale(77.3, { display: true, text: 'Date', font: { size: 24, weight: 'bold' }, padding: { top: 0, bottom: 11 } }),
            y: yScale(0, 100, rsiTicks, {
                display: true, text: 'RSI', font: { size: 20, weight: 'bold' }, padding: { top: 11, bottom: 0 }
            })
        }
    },
    plugins: [boxLegend]
});

// ---- tables ----
function buildTable(el, headers, rows, headH, rowH, rowColor) {
    const head = document.createElement('tr');
    head.style.height = headH + 'px';
    headers.forEach(h => {
        const th = document.createElement('th');
        th.textContent = h;
        head.appendChild(th);
    });
    el.appendChild(head);
    rows.forEach((r, i) => {
        const tr = document.createElement('tr');
        tr.style.height = rowH + 'px';
        tr.style.background = rowColor(i);
        r.forEach(c => {
            const td = document.createElement('td');
            td.textContent = String(c);
            tr.appendChild(td);
        });
        el.appendChild(tr);
    });
}

buildTable(document.getElementById('recentTable'),
    ['Date', '7D Vol(%)', '14D Vol(%)', '30D Vol(%)', '7D/14D Ratio'],
    recentDates.map((d, i) => [d, recentVol7[i], recentVol14[i], recentVol30[i], recentRatio[i]]),
    20, 19.4, i => (i % 2 ? '#f0f0f0' : '#ffffff'));

buildTable(document.getElementById('rankTable'),
    ['Indicator', 'Date', 'Value', 'History Rank'],
    rankIndicators.map((n, i) => [n, rankDates[i], rankValues[i], rankPositions[i]]),
    24, 23.7, i => (i === rankHighlightRow ? '#c8e6c9' : (i % 2 ? '#f5f5f5' : '#ffffff')));
</script>
</body>
</html>
